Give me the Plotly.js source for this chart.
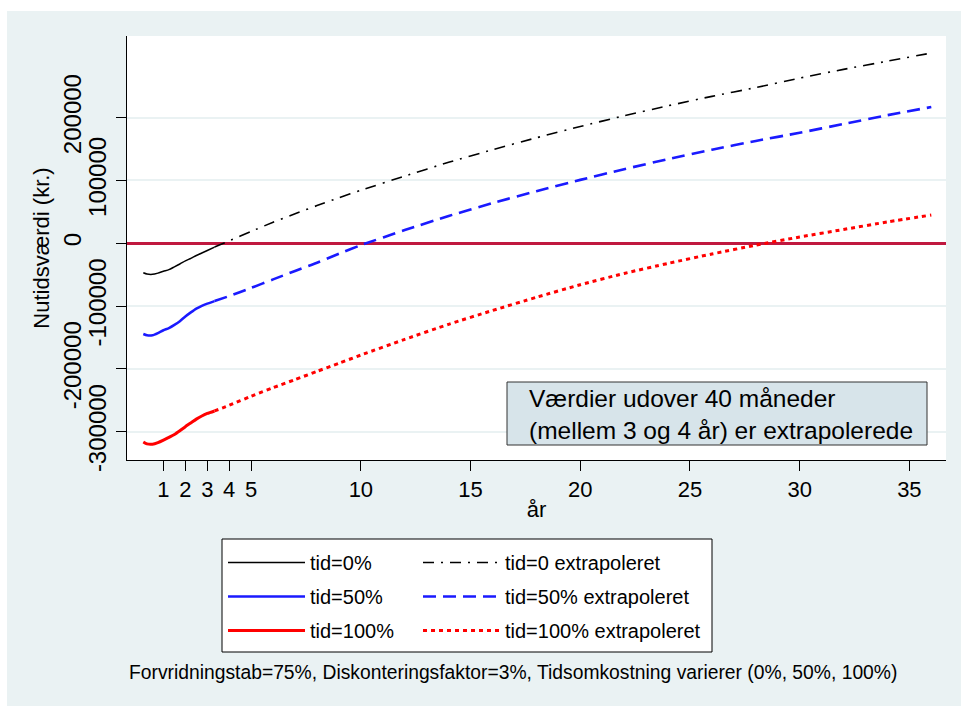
<!DOCTYPE html>
<html>
<head>
<meta charset="utf-8">
<script src="https://cdn.plot.ly/plotly-3.0.1.min.js"></script>
<style>
  html, body { margin: 0; padding: 0; background: #ffffff; width: 961px; height: 706px; overflow: hidden; }
  #chart { position: absolute; left: 7px; top: 11px; width: 954px; height: 695px; }
</style>
</head>
<body>
<div id="chart"></div>
<script>
// Observed period (months 1..40, in years)
const yearsObs = [0.083, 0.25, 0.5, 0.75, 1.0, 1.25, 1.5, 1.75, 2.0, 2.25, 2.5, 2.75, 3.0, 3.33];
const obs0   = [-47000, -49000, -49500, -47500, -44500, -42000, -37500, -33000, -28000, -24000, -19500, -15500, -11500, -6000];
const obs50  = [-144500, -146500, -146500, -143000, -138500, -135000, -130000, -124000, -116500, -110000, -104000, -99500, -96000, -92000];
const obs100 = [-316500, -319500, -320000, -317500, -313500, -309000, -304500, -298500, -292000, -286000, -280000, -275000, -271000, -267000];

// Extrapolated period (years)
const yearsExt = [3.33, 4, 5, 6, 7, 8, 9, 10, 12, 14, 16, 18, 20, 22, 24, 26, 28, 30, 32, 34, 36];
const ext0   = [-6000, 4000, 19000, 33500, 47000, 60000, 72500, 84500, 107000, 129000, 149000, 168000, 186000, 203000, 219000, 234000, 248000, 263000, 277000, 290000, 303000];
const ext50  = [-92000, -84000, -71000, -57500, -44000, -31000, -16500, -3000, 21000, 43500, 64000, 83000, 101000, 118000, 134000, 149000, 163000, 176000, 190000, 204000, 217000];
const ext100 = [-267000, -258000, -243500, -230000, -217000, -204000, -191000, -178000, -153000, -129000, -107000, -86000, -66000, -48000, -32000, -17000, -3000, 10000, 22000, 34000, 45000];

const seriesNamesObs = ['tid=0%', 'tid=50%', 'tid=100%'];
const seriesNamesExt = ['tid=0 extrapoleret', 'tid=50% extrapoleret', 'tid=100% extrapoleret'];

const xTicks = [1, 2, 3, 4, 5, 10, 15, 20, 25, 30, 35];
const yTicksA = [200000, 0, -200000];
const yTicksB = [100000, -100000, -300000];

const xTitle = 'år';
const yTitle = 'Nutidsværdi (kr.)';
const boxText = 'Værdier udover 40 måneder<br>(mellem 3 og 4 år) er extrapolerede';
const noteText = 'Forvridningstab=75%, Diskonteringsfaktor=3%, Tidsomkostning varierer (0%, 50%, 100%)';

const FONT = 'Liberation Sans, Arial, Helvetica, sans-serif';
const BG = '#EAF2F3';

const colors = ['#000000', '#1a1aff', '#ff0000'];
const obsWidths = [1.5, 2.5, 3];
const extStyles = [
  {width: 1.6, dash: '11px,7px,2px,7px'},
  {width: 2.6, dash: '13px,7px'},
  {width: 3, dash: '4px,4px'}
];
const obsY = [obs0, obs50, obs100];
const extY = [ext0, ext50, ext100];

const traces = [];
for (let i = 0; i < 3; i++) {
  traces.push({
    type: 'scatter', mode: 'lines', x: yearsObs, y: obsY[i], name: seriesNamesObs[i],
    line: {color: colors[i], width: obsWidths[i], shape: 'spline', smoothing: 0.6},
    legend: 'legend', legendgroup: 'o' + i, hoverinfo: 'skip'
  });
}
for (let i = 0; i < 3; i++) {
  traces.push({
    type: 'scatter', mode: 'lines', x: yearsExt, y: extY[i], name: seriesNamesExt[i],
    line: {color: colors[i], width: extStyles[i].width, dash: extStyles[i].dash, shape: 'spline', smoothing: 0.6},
    legend: 'legend2', legendgroup: 'e' + i, hoverinfo: 'skip'
  });
}
// invisible trace to activate the second (label) y axis
traces.push({type: 'scatter', mode: 'lines', x: [0], y: [0], yaxis: 'y2', showlegend: false,
  line: {color: 'rgba(0,0,0,0)'}, hoverinfo: 'skip'});

const W = 954, H = 695;
const ml = 120, mr = 15, mt = 25, mb = 246;
const pw = W - ml - mr, ph = H - mt - mb;
// page pixel -> paper coords (div is offset by 7,11)
const PX = p => (p - 7 - ml) / pw;
const PY = p => (H - mb - (p - 11)) / ph;

const yRange = [-345100, 330100];

const legendCommon = {
  orientation: 'v', bgcolor: 'rgba(0,0,0,0)', borderwidth: 0,
  font: {family: FONT, size: 20, color: '#000'},
  itemwidth: 77, tracegroupgap: 5, xanchor: 'left', yanchor: 'top',
  itemclick: false, itemdoubleclick: false
};

const layout = {
  width: W, height: H,
  margin: {l: ml, r: mr, t: mt, b: mb},
  paper_bgcolor: BG, plot_bgcolor: '#ffffff',
  font: {family: FONT, color: '#000'},
  showlegend: true,
  xaxis: {
    range: [-0.66, 36.67], tickmode: 'array', tickvals: xTicks,
    ticks: 'outside', ticklen: 10, tickwidth: 1, tickcolor: '#000',
    showline: true, linecolor: '#000', linewidth: 1, showgrid: false, zeroline: false,
    tickfont: {family: FONT, size: 22, color: '#000'},
    title: {text: xTitle, font: {family: FONT, size: 22, color: '#000'}, standoff: 0}
  },
  yaxis: {
    range: yRange, tickmode: 'array', tickvals: yTicksA, ticktext: yTicksA.map(String),
    ticks: 'outside', ticklen: 10, tickwidth: 1, tickcolor: '#000', tickangle: -90,
    ticklabelstandoff: 25,
    showline: true, linecolor: '#000', linewidth: 1,
    showgrid: true, gridcolor: BG, gridwidth: 2,
    zeroline: true, zerolinecolor: '#C0183F', zerolinewidth: 2.5,
    tickfont: {family: FONT, size: 24, color: '#000'},
    title: {text: yTitle, font: {family: FONT, size: 22, color: '#000'}, standoff: 3}
  },
  yaxis2: {
    range: yRange, overlaying: 'y', side: 'left', tickmode: 'array', tickvals: yTicksB,
    ticktext: yTicksB.map(String),
    ticks: 'outside', ticklen: 10, tickwidth: 1, tickcolor: '#000', tickangle: -90,
    showline: false, showgrid: true, gridcolor: BG, gridwidth: 2, zeroline: false,
    tickfont: {family: FONT, size: 24, color: '#000'}
  },
  legend: Object.assign({}, legendCommon, {x: PX(223), y: PY(543)}),
  legend2: Object.assign({}, legendCommon, {x: PX(418), y: PY(543)}),
  shapes: [
    {type: 'rect', xref: 'paper', yref: 'paper', x0: PX(222), x1: PX(712), y0: PY(652), y1: PY(539),
     fillcolor: '#ffffff', line: {color: '#000', width: 1}, layer: 'above'},
    {type: 'rect', xref: 'paper', yref: 'paper', x0: PX(507), x1: PX(927), y0: PY(445), y1: PY(382),
     fillcolor: '#D7E4EA', line: {color: '#333', width: 1}, layer: 'above'}
  ],
  annotations: [
    {xref: 'paper', yref: 'paper', x: PX(527), y: PY(414), xanchor: 'left', yanchor: 'middle',
     align: 'left', showarrow: false, text: boxText, font: {family: FONT, size: 24.5, color: '#000'}},
    {xref: 'paper', yref: 'paper', x: PX(127), y: PY(672), xanchor: 'left', yanchor: 'middle',
     align: 'left', showarrow: false, text: noteText, font: {family: FONT, size: 19.3, color: '#000'}}
  ]
};

Plotly.newPlot('chart', traces, layout, {staticPlot: true, displayModeBar: false});
</script>
</body>
</html>
